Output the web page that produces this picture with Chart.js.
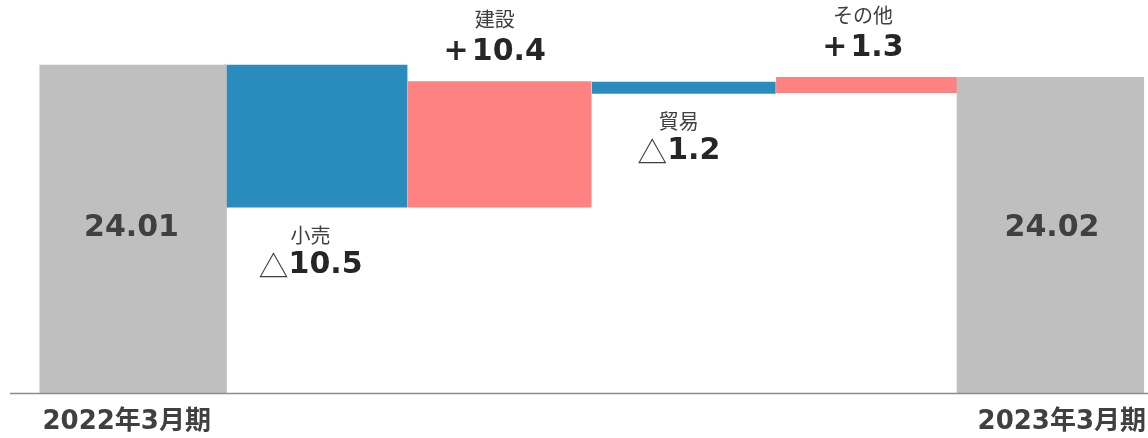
<!DOCTYPE html>
<html>
<head>
<meta charset="utf-8">
<script src="https://cdn.jsdelivr.net/npm/chart.js@4.4.1/dist/chart.umd.min.js"></script>
<style>
  html, body { margin: 0; padding: 0; background: #ffffff; }
  #wrap { width: 1148px; height: 438px; }
</style>
</head>
<body>
<div id="wrap"><canvas id="c" width="1148" height="438"></canvas></div>
<script>
// ---- data ----
const categories = ['2022年3月期', '小売', '建設', '貿易', 'その他', '2023年3月期'];
// total bars: [bottom, top]
const totalBars = [[0, 24.01], null, null, null, null, [0, 23.11]];
// change bars (floating): [bottom, top]
const changeBars = [null, [13.6, 24.01], [13.6, 22.79], [21.94, 22.77], [21.98, 23.11], null];
// direction of each change (-1 decrease, +1 increase)
const changeSign = [0, -1, 1, -1, 1, 0];
// texts shown on the chart
const totalLabels = ['24.01', null, null, null, null, '24.02'];
const changeLabels = [null, '10.5', '10.4', '1.2', '1.3', null];

const GRAY = '#BFBFBF', BLUE = '#2A8CBD', PINK = '#FF8282', TEXT = '#404040';

const labelPlugin = {
  id: 'wfLabels',
  afterDatasetsDraw(chart) {
    const ctx = chart.ctx;
    const yScale = chart.scales.y;
    const baseY = yScale.getPixelForValue(0);
    ctx.save();
    // baseline
    ctx.strokeStyle = '#8C8C8C';
    ctx.lineWidth = 1.5;
    ctx.beginPath();
    ctx.moveTo(10, baseY + 0.5);
    ctx.lineTo(1148, baseY + 0.5);
    ctx.stroke();

    const totMeta = chart.getDatasetMeta(0);
    const chgMeta = chart.getDatasetMeta(1);
    ctx.textBaseline = 'middle';
    // totals
    totalLabels.forEach((t, i) => {
      if (!t) return;
      const el = totMeta.data[i];
      ctx.fillStyle = TEXT;
      ctx.font = 'bold 30px "DejaVu Sans"';
      ctx.textAlign = 'center';
      ctx.fillText(t, el.x, 228);
    });
    // x category labels for totals
    ctx.font = 'bold 26px "DejaVu Sans", "Noto Sans CJK JP"';
    ctx.fillStyle = TEXT;
    {
      const el0 = totMeta.data[0];
      ctx.textAlign = 'left';
      ctx.fillText(categories[0], el0.x - el0.width / 2 + 6, 422);
      const el5 = totMeta.data[5];
      ctx.textAlign = 'right';
      ctx.fillText(categories[5], el5.x + el5.width / 2 - 1, 422);
    }
    // change labels
    changeLabels.forEach((t, i) => {
      if (!t) return;
      const el = chgMeta.data[i];
      const cx = el.x - 5;
      let nameY, valY;
      if (changeSign[i] > 0) {
        const top = Math.min(el.y, el.base);
        nameY = top - 62; valY = top - 29;
      } else {
        const bot = Math.max(el.y, el.base);
        nameY = bot + 28; valY = bot + 58;
      }
      ctx.fillStyle = TEXT;
      ctx.textAlign = 'center';
      ctx.font = '20px "Noto Sans CJK JP"';
      ctx.fillText(categories[i], cx, nameY);
      // value: sign glyph + bold number
      const signTxt = changeSign[i] > 0 ? '+' : '△';
      const signFont = changeSign[i] > 0 ? 'bold 30px "DejaVu Sans"' : '30px "Noto Sans CJK JP"';
      const numFont = 'bold 30px "DejaVu Sans"';
      ctx.font = signFont;
      const sw = ctx.measureText(signTxt).width;
      ctx.font = numFont;
      const nw = ctx.measureText(t).width;
      const gap = changeSign[i] > 0 ? 3 : 0;
      const x0 = cx - (sw + gap + nw) / 2;
      ctx.textAlign = 'left';
      ctx.font = signFont;
      ctx.fillStyle = changeSign[i] > 0 ? '#262626' : '#404040';
      ctx.fillText(signTxt, x0, valY);
      ctx.font = numFont;
      ctx.fillStyle = '#262626';
      ctx.fillText(t, x0 + sw + gap, valY);
    });
    ctx.restore();
  }
};

new Chart(document.getElementById('c'), {
  type: 'bar',
  data: {
    labels: categories,
    datasets: [
      {
        label: 'total',
        data: totalBars,
        backgroundColor: GRAY,
        barThickness: 190,
        borderWidth: 0,
        borderSkipped: false
      },
      {
        label: 'change',
        data: changeBars,
        backgroundColor: changeSign.map(s => s > 0 ? PINK : BLUE),
        barThickness: 183,
        borderWidth: 0,
        borderSkipped: false
      }
    ]
  },
  options: {
    responsive: false,
    animation: false,
    devicePixelRatio: 1,
    layout: { padding: { left: 39.45, right: 3.95, top: 0, bottom: 45 } },
    datasets: { bar: { grouped: false, skipNull: true } },
    plugins: { legend: { display: false }, tooltip: { enabled: false }, title: { display: false } },
    scales: {
      x: { display: false },
      y: { display: false, min: 0, max: 28.77 }
    }
  },
  plugins: [labelPlugin]
});
</script>
</body>
</html>
